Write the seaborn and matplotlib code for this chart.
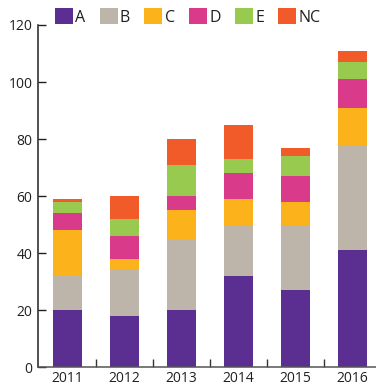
import matplotlib
matplotlib.use("Agg")
import matplotlib.pyplot as plt
from matplotlib.patches import Patch
from matplotlib.ticker import FixedLocator
import numpy as np
import pandas as pd
import seaborn as sns

# --- data ---
years = ["2011", "2012", "2013", "2014", "2015", "2016"]
cat_a = [20, 18, 20, 32, 27, 41]
cat_b = [12, 16, 25, 18, 23, 37]
cat_c = [16, 4, 10, 9, 8, 13]
cat_d = [6, 8, 5, 9, 9, 10]
cat_e = [4, 6, 11, 5, 7, 6]
cat_nc = [1, 8, 9, 12, 3, 4]

labels = ["A", "B", "C", "D", "E", "NC"]
colors = ["#5B2F91", "#BDB5A9", "#FBB21B", "#DA3A8A", "#97CA4E", "#F15A29"]

sns.set_style("ticks")
plt.rcParams["font.family"] = ["Open Sans", "DejaVu Sans"]
plt.rcParams["font.size"] = 10
text_col = "#231F20"

df = pd.DataFrame({"year": years, "A": cat_a, "B": cat_b, "C": cat_c,
                   "D": cat_d, "E": cat_e, "NC": cat_nc})
# cumulative totals so the layers can be drawn front-to-back
cum = df[labels].cumsum(axis=1)

fig = plt.figure(figsize=(3.76, 3.86), dpi=100)
ax = fig.add_axes([38 / 376, 1 - 367.3 / 386, 1 - 38 / 376, (367.3 - 25) / 386])

for lab, col in reversed(list(zip(labels, colors))):
    sns.barplot(x=df["year"], y=cum[lab], color=col, width=0.51,
                saturation=1, ax=ax, linewidth=0, order=years)

ax.set_ylim(0, 120)
ax.set_xlim(-0.52, 5.41)
ax.set_yticks([0, 20, 40, 60, 80, 100, 120])
ax.set_xlabel("")
ax.set_ylabel("")

for side in ["top", "right"]:
    ax.spines[side].set_visible(False)
ax.spines["left"].set_color("#231F20")
ax.spines["left"].set_linewidth(1.1)
ax.spines["bottom"].set_color("#555555")
ax.spines["bottom"].set_linewidth(1.1)

ax.tick_params(axis="y", direction="in", length=6, width=1, pad=4,
               colors=text_col, labelsize=10)
ax.tick_params(axis="x", which="major", length=0, pad=3,
               colors=text_col, labelsize=10)
ax.xaxis.set_minor_locator(FixedLocator(np.arange(0.5, 5, 1)))
ax.tick_params(axis="x", which="minor", direction="in", length=6,
               width=1, color="#333333")

handles = [Patch(facecolor=c, edgecolor="none", label=l)
           for l, c in zip(labels, colors)]
fig.legend(handles=handles, loc="center left",
           bbox_to_anchor=(55 / 376, 1 - 17 / 386), ncol=6, frameon=False,
           handlelength=1.13, handleheight=1.13, handletextpad=0.13,
           columnspacing=0.9, borderpad=0, borderaxespad=0,
           fontsize=11.5, labelcolor=text_col)

fig.savefig("out.png", dpi=100)
